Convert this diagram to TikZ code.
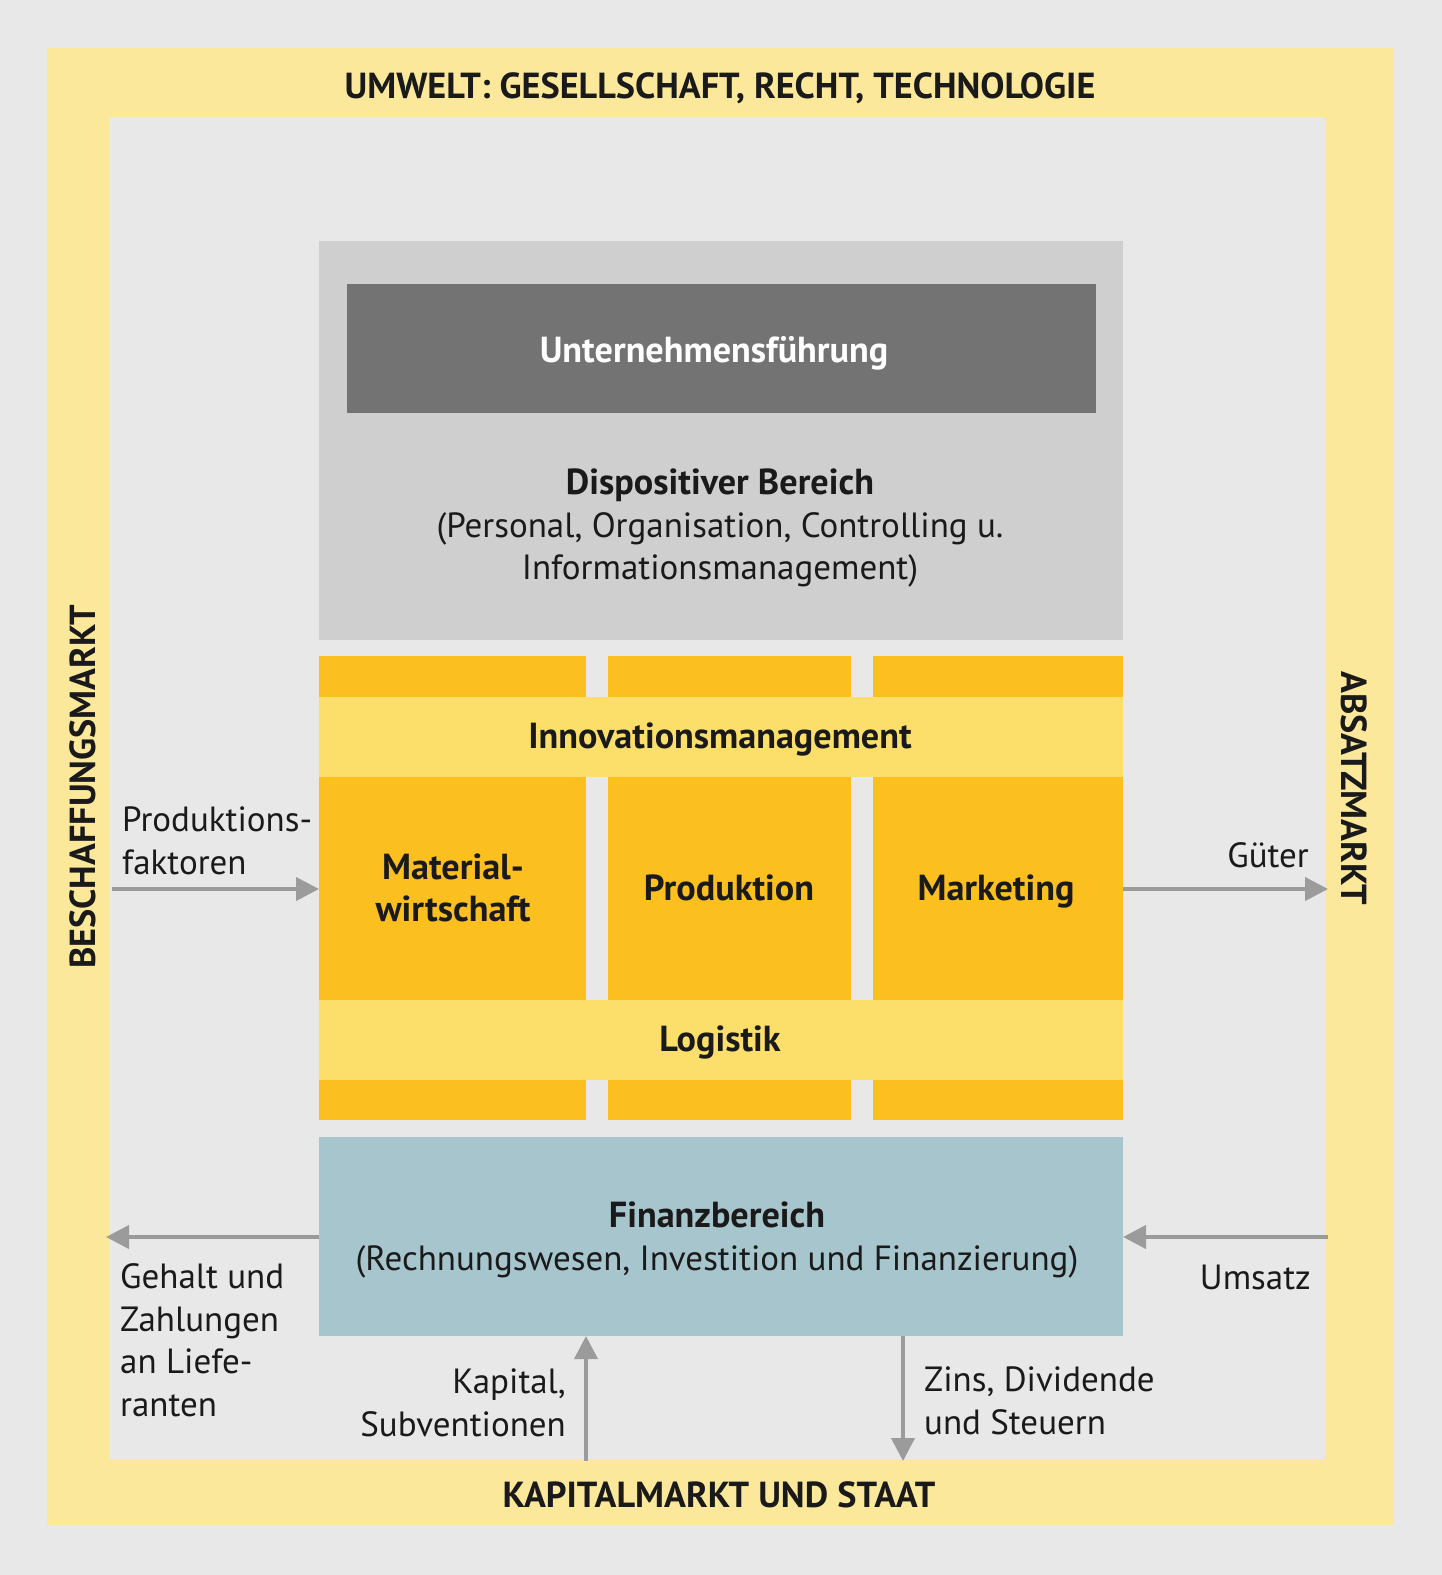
\documentclass[tikz,border=0pt]{standalone}
\usepackage{fontspec}
\setmainfont{PT Sans}
\usetikzlibrary{arrows.meta}
\definecolor{bg}{HTML}{E8E8E8}
\definecolor{frameyel}{HTML}{FCE89A}
\definecolor{dispgray}{HTML}{CFCFCF}
\definecolor{darkgray}{HTML}{737373}
\definecolor{colyel}{HTML}{FBBF1F}
\definecolor{bandyel}{HTML}{FCDF6A}
\definecolor{finblue}{HTML}{A7C5CD}
\definecolor{arrgray}{HTML}{9B9B9B}
\definecolor{txt}{HTML}{1A1A1A}
\begin{document}
\begin{tikzpicture}[x=1pt,y=-1pt,
  txtstyle/.style={font=\fontsize{35}{42.5}\selectfont, text=txt, inner sep=0pt},
  boldtxt/.style={font=\fontsize{36.2}{42.5}\selectfont\bfseries, text=txt, inner sep=0pt},
  boxstyle/.style={rectangle, inner sep=0pt, outer sep=0pt, draw=none},
  flow/.style={draw=arrgray, line width=4pt, -{Triangle[length=23pt,width=23pt]}}
]
\useasboundingbox (0,0) rectangle (1442,1575);
\fill[bg] (0,0) rectangle (1442,1575);
% environment frame
\fill[frameyel] (47,48) rectangle (1394,1525);
\fill[bg] (109,117) rectangle (1325,1459);

% dispositive area
\node[boxstyle, fill=dispgray, minimum width=804pt, minimum height=399pt] (disp) at (721,440.5) {};
\node[boxstyle, fill=darkgray, minimum width=749pt, minimum height=129pt] (fuehr) at (721.5,348.5) {};
\node[boldtxt, text=white] (fuehrtext) at (714,353) {Unternehmensführung};
\node[txtstyle, align=center] (disptext) at (720,528)
  {{\fontsize{36.2}{42.5}\selectfont\bfseries Dispositiver Bereich}\\(Personal, Organisation, Controlling u.\\Informationsmanagement)};

% columns
\node[boxstyle, fill=colyel, minimum width=267pt, minimum height=464pt] (col1) at (452.5,888) {};
\node[boxstyle, fill=colyel, minimum width=243pt, minimum height=464pt] (col2) at (729.5,888) {};
\node[boxstyle, fill=colyel, minimum width=250pt, minimum height=464pt] (col3) at (998,888) {};
\node[boxstyle, fill=bandyel, minimum width=804pt, minimum height=80pt] (innov) at (721,737) {};
\node[boxstyle, fill=bandyel, minimum width=804pt, minimum height=80pt] (logist) at (721,1040) {};
\node[boldtxt] (innovtext) at (720,739) {Innovationsmanagement};
\node[boldtxt] (logtext) at (720,1042) {Logistik};
\node[boldtxt, align=center] (mat) at (453,888) {Material-\\wirtschaft};
\node[boldtxt] (prod) at (729,888) {Produktion};
\node[boldtxt] (mark) at (996,891) {Marketing};

% finance
\node[boxstyle, fill=finblue, minimum width=804pt, minimum height=199pt] (fin) at (721,1236.5) {};
\node[txtstyle, align=center] (fintext) at (717,1240)
  {{\fontsize{36.2}{42.5}\selectfont\bfseries Finanzbereich}\\(Rechnungswesen, Investition und Finanzierung)};

% market labels
\node[boldtxt] (umwelt) at (720,88) {UMWELT: GESELLSCHAFT, RECHT, TECHNOLOGIE};
\node[boldtxt] (kapm) at (719,1495) {KAPITALMARKT UND STAAT};
\node[boldtxt, rotate=90] (besch) at (83,787) {BESCHAFFUNGSMARKT};
\node[boldtxt, rotate=-90] (absatz) at (1354,788) {ABSATZMARKT};

% flows
\coordinate (pfstart) at (112,889);
\coordinate (gend) at (1328,889);
\coordinate (gehend) at (106,1237);
\coordinate (umstart) at (1328,1237);
\coordinate (kapstart) at (586,1461);
\coordinate (zinsend) at (903,1461);
\draw[flow] (pfstart) -- (pfstart -| col1.west);
\draw[flow] (gend -| col3.east) -- (gend);
\draw[flow] (gehend -| fin.west) -- (gehend);
\draw[flow] (umstart) -- (umstart -| fin.east);
\draw[flow] (kapstart) -- (kapstart |- fin.south);
\draw[flow] (zinsend |- fin.south) -- (zinsend);

% flow labels
\node[txtstyle, align=left, anchor=west] (pftext) at (122,841) {Produktions-\\faktoren};
\node[txtstyle, anchor=east] (gtext) at (1309,855) {Güter};
\node[txtstyle, align=left, anchor=west] (gehtext) at (120,1340) {Gehalt und\\Zahlungen\\an Liefe-\\ranten};
\node[txtstyle, anchor=east] (umtext) at (1311,1277) {Umsatz};
\node[txtstyle, align=right, anchor=east] (kaptext) at (566,1403) {Kapital,\\Subventionen};
\node[txtstyle, align=left, anchor=west] (zinstext) at (924,1401) {Zins, Dividende\\und Steuern};
\end{tikzpicture}
\end{document}
